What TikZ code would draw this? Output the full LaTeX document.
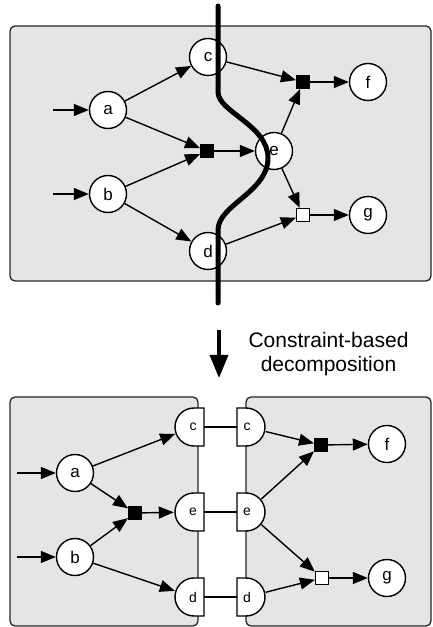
\documentclass[tikz,border=0pt]{standalone}
\usepackage{fontspec}
\setmainfont{Liberation Sans}
\usetikzlibrary{arrows.meta}
\definecolor{boxgray}{HTML}{E5E5E5}
\begin{document}
\begin{tikzpicture}[x=1pt,y=1pt,
  box/.style={draw=black!85,fill=boxgray,line width=1.3pt,rounded corners=5pt},
  vtx/.style={circle,draw,fill=white,line width=1.4pt,minimum size=37pt,inner sep=0pt,font=\fontsize{17}{17}\selectfont},
  bsq/.style={rectangle,draw,fill=black,minimum size=13pt,inner sep=0pt,line width=1pt},
  wsq/.style={rectangle,draw,fill=white,minimum size=13pt,inner sep=0pt,line width=1.3pt},
  edge/.style={line width=1.4pt,-{Triangle[length=15pt,width=12pt]}},
  dlab/.style={circle,minimum size=38pt,inner sep=0pt,font=\fontsize{14}{14}\selectfont},
  dshape/.style={draw,fill=white,line width=1.4pt},
  link/.style={line width=1.4pt},
  cut/.style={line width=5pt,line cap=round},
  captext/.style={font=\fontsize{21}{24}\selectfont,anchor=base},
]
\useasboundingbox (0,0) rectangle (432,627);
% ---------- top graph ----------
\draw[box] (10,346) rectangle (431,601);
\node[vtx] (a) at (108,517) {a};
\node[vtx] (b) at (108,433) {b};
\node[vtx] (c) at (208,570) {c};
\node[vtx] (d) at (208,376) {d};
\node[vtx] (e) at (274,476) {e};
\node[vtx] (f) at (368,545) {f};
\node[vtx] (g) at (368,412) {g};
\node[bsq] (s1) at (207,476) {};
\node[bsq] (s2) at (303,545) {};
\node[wsq] (s3) at (303,412) {};
\coordinate (ia) at (53,517);
\coordinate (ib) at (53,433);
\draw[edge] (ia) -- (a);
\draw[edge] (ib) -- (b);
\draw[edge] (a) -- (c);
\draw[edge] (a) -- (s1);
\draw[edge] (b) -- (s1);
\draw[edge] (b) -- (d);
\draw[edge] (s1) -- (e);
\draw[edge] (c) -- (s2);
\draw[edge] (e) -- (s2);
\draw[edge] (s2) -- (f);
\draw[edge] (e) -- (s3);
\draw[edge] (d) -- (s3);
\draw[edge] (s3) -- (g);
% cut line
\coordinate (cutT) at (218,621);
\coordinate (cutB) at (218,324);
\draw[cut] (cutT) -- (218,535) .. controls (218,515) and (268,502) .. (268,469)
  .. controls (268,435) and (218,422) .. (218,397) -- (cutB);
% ---------- arrow and caption ----------
\coordinate (arrS) at (219,297);
\coordinate (arrE) at (219,249);
\draw[line width=3.5pt,-{Triangle[length=23pt,width=18pt]}] (arrS) -- (arrE);
\node[captext] (cap1) at (328.5,279) {Constraint-based};
\node[captext] (cap2) at (328.5,255) {decomposition};
% ---------- bottom graphs ----------
\draw[box] (10,1) rectangle (198,230);
\draw[box] (246,1) rectangle (431,230);
% D shapes (left: flat side right; right: flat side left)
\foreach \yy in {200,115,30}{
  \draw[dshape] (204,\yy+19) -- (194,\yy+19) arc[start angle=90,end angle=270,radius=19] -- (204,\yy-19) -- cycle;
  \draw[dshape] (237,\yy+19) -- (246,\yy+19) arc[start angle=90,end angle=-90,radius=19] -- (237,\yy-19) -- cycle;
}
\node[dlab] (lc) at (193,200) {c};
\node[dlab] (le) at (193,115) {e};
\node[dlab] (ld) at (193,30) {d};
\node[dlab] (rc) at (247,200) {c};
\node[dlab] (re) at (247,115) {e};
\node[dlab] (rd) at (247,30) {d};
\coordinate (lcf) at (204,200); \coordinate (rcf) at (237,200);
\coordinate (lef) at (204,115); \coordinate (ref) at (237,115);
\coordinate (ldf) at (204,30);  \coordinate (rdf) at (237,30);
\draw[link] (lcf) -- (rcf);
\draw[link] (lef) -- (ref);
\draw[link] (ldf) -- (rdf);
% left part
\node[vtx] (ba) at (75,154) {a};
\node[vtx] (bb) at (75,70) {b};
\node[bsq] (bs1) at (135,114) {};
\coordinate (iba) at (17,154);
\coordinate (ibb) at (17,70);
\draw[edge] (iba) -- (ba);
\draw[edge] (ibb) -- (bb);
\draw[edge] (ba) -- (lc);
\draw[edge] (ba) -- (bs1);
\draw[edge] (bb) -- (bs1);
\draw[edge] (bb) -- (ld);
\draw[edge] (bs1) -- (le);
% right part
\node[bsq] (bs2) at (321,182) {};
\node[vtx] (bf) at (387,183) {f};
\node[wsq] (bs3) at (322,49) {};
\node[vtx] (bg) at (387,49) {g};
\draw[edge] (rc) -- (bs2);
\draw[edge] (re) -- (bs2);
\draw[edge] (bs2) -- (bf);
\draw[edge] (re) -- (bs3);
\draw[edge] (rd) -- (bs3);
\draw[edge] (bs3) -- (bg);
\end{tikzpicture}
\end{document}
